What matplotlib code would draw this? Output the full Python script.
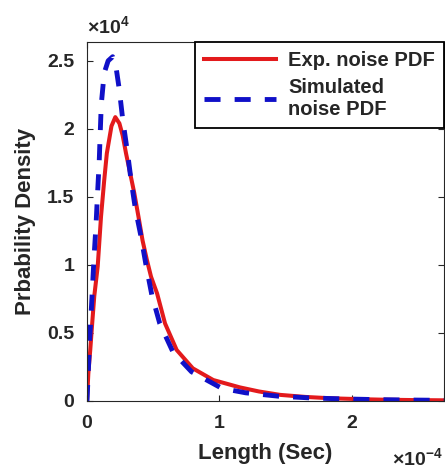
import numpy as np
import matplotlib
matplotlib.use('Agg')
import matplotlib.pyplot as plt
from matplotlib.ticker import FuncFormatter

# values (x in 1e-4 s, y in 1e4)
exp_x = [0, 0.01, 0.025, 0.04, 0.055, 0.081, 0.106, 0.13, 0.15, 0.185, 0.214,
         0.245, 0.27, 0.295, 0.325, 0.357, 0.39, 0.42, 0.452, 0.484, 0.53,
         0.59, 0.678, 0.80, 0.955, 1.156, 1.3, 1.46, 1.65, 1.84, 2.05, 2.22,
         2.45, 2.7]
exp_y = [0, 0.2, 0.38, 0.58, 0.77, 0.99, 1.355, 1.62, 1.82, 2.02, 2.086,
         2.04, 1.95, 1.82, 1.68, 1.53, 1.35, 1.18, 1.04, 0.914, 0.79,
         0.57, 0.375, 0.24, 0.154, 0.10, 0.07, 0.045, 0.03, 0.02, 0.014, 0.01,
         0.007, 0.005]

sim_x = [0, 0.01, 0.02, 0.032, 0.043, 0.055, 0.068, 0.08, 0.092, 0.10, 0.108,
         0.13, 0.16, 0.194, 0.22, 0.244, 0.27, 0.307, 0.333, 0.365, 0.408,
         0.446, 0.49, 0.55, 0.65, 0.79, 1.02, 1.2, 1.45, 1.7, 1.95, 2.2,
         2.45, 2.7]
sim_y = [0, 0.22, 0.45, 0.66, 0.865, 1.085, 1.29, 1.53, 1.75, 1.97, 2.18,
         2.41, 2.50, 2.53, 2.45, 2.29, 2.07, 1.82, 1.625, 1.417, 1.21,
         1.0, 0.78, 0.57, 0.36, 0.215, 0.093, 0.06, 0.035, 0.022, 0.015, 0.01,
         0.007, 0.005]

xs_exp = np.array(exp_x) * 1e-4
ys_exp = np.array(exp_y) * 1e4
xs_sim = np.array(sim_x) * 1e-4
ys_sim = np.array(sim_y) * 1e4

txt = '#262626'
plt.rcParams['font.family'] = ['Liberation Sans', 'DejaVu Sans']
plt.rcParams['font.weight'] = 'bold'
plt.rcParams['mathtext.fontset'] = 'custom'
plt.rcParams['mathtext.rm'] = 'Liberation Sans:bold'
plt.rcParams['mathtext.default'] = 'rm'

fig = plt.figure(figsize=(4.45, 4.69), dpi=100)
ax = fig.add_axes([0.1955, 0.145, 0.8025, 0.766])

ax.plot(xs_exp, ys_exp, color='#e31a1c', lw=2.9, label='Exp. noise PDF')
ax.plot(xs_sim, ys_sim, color='#1010c8', lw=3.5, dashes=(3.3, 2.9),
        label='Simulated\nnoise PDF')

ax.set_xlim(0, 2.7e-4)
ax.set_ylim(0, 2.64e4)
ax.set_xticks([0, 1e-4, 2e-4])
ax.set_yticks([0, 0.5e4, 1e4, 1.5e4, 2e4, 2.5e4])
ax.xaxis.set_major_formatter(FuncFormatter(lambda v, p: '%g' % round(v / 1e-4, 3)))
ax.yaxis.set_major_formatter(FuncFormatter(lambda v, p: '%g' % round(v / 1e4, 3)))
ax.tick_params(direction='in', length=4, width=0.8, colors=txt, labelsize=14,
               top=True, right=True)
ax.tick_params(axis='x', pad=10)
ax.tick_params(axis='y', pad=9)
for s in ax.spines.values():
    s.set_color(txt)
    s.set_linewidth(0.8)

ax.set_xlabel('Length (Sec)', fontsize=16, color=txt, fontweight='bold', labelpad=8)
ax.set_ylabel('Prbability Density', fontsize=16, color=txt, fontweight='bold', labelpad=8)

ax.text(0.0, 1.012, r'$\times10^{4}$', transform=ax.transAxes, ha='left',
        va='bottom', fontsize=14, color=txt)
fig.text(0.994, 0.008, r'$\times10^{-4}$', ha='right', va='baseline',
         fontsize=14, color=txt)

leg = ax.legend(loc='upper right', bbox_to_anchor=(1.0, 1.0), borderaxespad=0,
                fontsize=14.5, handlelength=3.6, handletextpad=0.6,
                borderpad=0.45, labelspacing=0.4, fancybox=False, framealpha=1)
leg.get_frame().set_edgecolor('black')
leg.get_frame().set_linewidth(1.3)
for t in leg.get_texts():
    t.set_color(txt)

fig.savefig('out.png', dpi=100)
